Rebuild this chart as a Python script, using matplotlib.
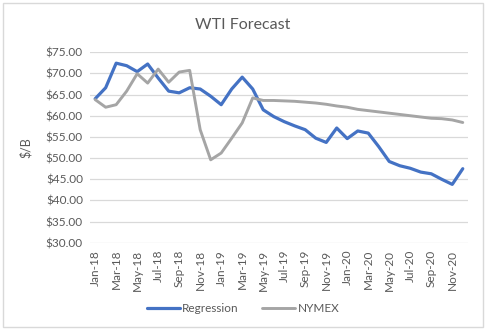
import matplotlib
matplotlib.use('Agg')
import matplotlib.pyplot as plt
import pandas as pd
from matplotlib.patches import Rectangle


months = pd.date_range('2018-01-01', periods=36, freq='MS').strftime('%b-%y').tolist()

regression = [64.0, 66.6, 72.4, 71.8, 70.4, 72.2, 68.9, 65.8, 65.4, 66.6, 66.3, 64.6,
              62.6, 66.3, 69.1, 66.3, 61.4, 59.8, 58.6, 57.6, 56.7, 54.7, 53.7, 57.1,
              54.6, 56.4, 55.9, 52.7, 49.2, 48.2, 47.6, 46.7, 46.3, 45.0, 43.8, 47.5]

nymex = [63.8, 62.0, 62.6, 65.8, 69.9, 67.7, 71.0, 67.9, 70.3, 70.7, 56.7, 49.6,
         51.2, 54.7, 58.3, 64.2, 63.6, 63.6, 63.5, 63.4, 63.2, 63.0, 62.7, 62.3,
         62.0, 61.5, 61.2, 60.9, 60.6, 60.3, 60.0, 59.7, 59.4, 59.3, 59.0, 58.4]

y_ticks = [30, 35, 40, 45, 50, 55, 60, 65, 70, 75]

text_col = '#595959'
plt.rcParams['font.family'] = ['Lato', 'DejaVu Sans']

fig = plt.figure(figsize=(4.86, 3.30), dpi=100)
ax = fig.add_axes([0.185, 0.264, 0.778, 0.578])

x = list(range(len(months)))
ax.plot(x, regression, color='#4472C4', lw=2.3, label='Regression', solid_capstyle='round')
ax.plot(x, nymex, color='#A5A5A5', lw=2.1, label='NYMEX', solid_capstyle='round')

ax.set_xlim(-0.5, len(months) - 0.5)
ax.set_ylim(30, 75)
ax.set_yticks(y_ticks)
ax.set_yticklabels([f'${v:.2f}' for v in y_ticks], color=text_col, fontsize=8.5)
ax.set_xticks(x[::2])
ax.set_xticklabels(months[::2], rotation=90, color=text_col, fontsize=8.5)
ax.tick_params(length=0, pad=5)
ax.grid(axis='y', color='#D9D9D9', lw=0.9)
ax.set_axisbelow(True)
for s in ax.spines.values():
    s.set_visible(False)

ax.set_ylabel('$/B', color=text_col, fontsize=9, labelpad=10)
fig.text(0.5, 0.925, 'WTI Forecast', ha='center', va='center', fontsize=11.5, color=text_col)

fig.legend(loc='center', bbox_to_anchor=(0.5, 0.064), ncol=2, frameon=False,
           fontsize=8.5, labelcolor=text_col, handlelength=2.8, handletextpad=0.2,
           columnspacing=2.0)

fig.patches.append(Rectangle((0.006, 0.009), 0.988, 0.982, transform=fig.transFigure,
                             fill=False, edgecolor='#D9D9D9', lw=1))

fig.savefig('out.png', dpi=100, facecolor='white')
plt.close(fig)
